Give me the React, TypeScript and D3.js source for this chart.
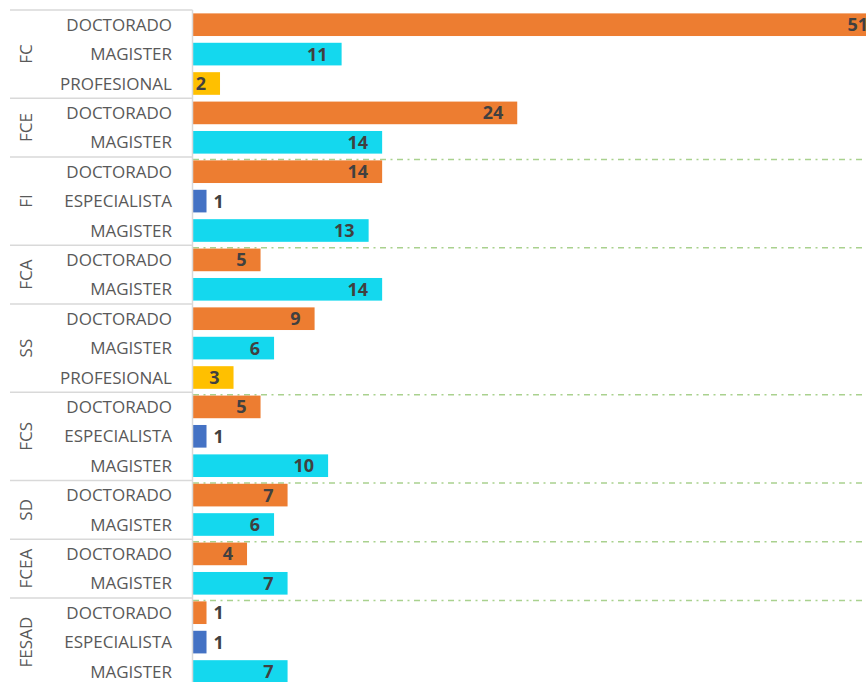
import * as d3 from "d3";

// rows, top to bottom
const groups = ["FC", "FCE", "FI", "FCA", "SS", "FCS", "SD", "FCEA", "FESAD"];
const rowGroups = [
  "FC", "FC", "FC",
  "FCE", "FCE",
  "FI", "FI", "FI",
  "FCA", "FCA",
  "SS", "SS", "SS",
  "FCS", "FCS", "FCS",
  "SD", "SD",
  "FCEA", "FCEA",
  "FESAD", "FESAD", "FESAD",
];
const rowDegrees = [
  "DOCTORADO", "MAGISTER", "PROFESIONAL",
  "DOCTORADO", "MAGISTER",
  "DOCTORADO", "ESPECIALISTA", "MAGISTER",
  "DOCTORADO", "MAGISTER",
  "DOCTORADO", "MAGISTER", "PROFESIONAL",
  "DOCTORADO", "ESPECIALISTA", "MAGISTER",
  "DOCTORADO", "MAGISTER",
  "DOCTORADO", "MAGISTER",
  "DOCTORADO", "ESPECIALISTA", "MAGISTER",
];
const values = [51, 11, 2, 24, 14, 14, 1, 13, 5, 14, 9, 6, 3, 5, 1, 10, 7, 6, 4, 7, 1, 1, 7];
// groups that have the green dash-dot line on top
const dashedGroups = ["FI", "FCA", "FCS", "SD", "FCEA", "FESAD"];

const degreeColors: Record<string, string> = {
  DOCTORADO: "#ED7D31",
  MAGISTER: "#14D8EE",
  PROFESIONAL: "#FFC000",
  ESPECIALISTA: "#4472C4",
};

export default function App() {
  const width = 866;
  const height = 682;
  const axisX = 192.5;
  const top = 10;
  const step = 29.4;

  const rowIds = values.map((_, i) => String(i));

  const y = d3
    .scaleBand()
    .domain(rowIds)
    .range([top, top + step * rowIds.length])
    .paddingInner(0.23)
    .paddingOuter(0.115);

  const x = d3.scaleLinear().domain([0, 51]).range([193, 882]);

  const font = "'Open Sans', sans-serif";

  // group start / end row indices
  const groupSpans = groups.map((g) => {
    const first = rowGroups.indexOf(g);
    const last = rowGroups.lastIndexOf(g);
    return { g, y0: top + first * step, y1: top + (last + 1) * step };
  });

  return (
    <svg
      width={width}
      height={height}
      style={{ position: "absolute", left: 0, top: 0, display: "block", background: "#fff" }}
    >
      {/* green dash-dot lines */}
      {groupSpans
        .filter((s) => dashedGroups.includes(s.g))
        .map((s) => (
          <line
            key={"d" + s.g}
            x1={193}
            x2={width}
            y1={s.y0 + 2.5}
            y2={s.y0 + 2.5}
            stroke="#A9D18E"
            strokeWidth={1.5}
            strokeDasharray="6,4.5,2,4.5"
          />
        ))}

      {/* bars */}
      {values.map((v, i) => (
        <rect
          key={"b" + i}
          x={x(0)}
          y={y(String(i))}
          width={x(v) - x(0)}
          height={y.bandwidth()}
          fill={degreeColors[rowDegrees[i]]}
        />
      ))}

      {/* value labels */}
      {values.map((v, i) => {
        const cy = (y(String(i)) as number) + y.bandwidth() / 2;
        const inside = v > 1;
        return (
          <text
            key={"v" + i}
            x={inside ? x(v) - 14 : x(v) + 7}
            y={cy + 6.5}
            textAnchor={inside ? "end" : "start"}
            fontFamily={font}
            fontWeight="bold"
            fontSize={18}
            fill="#404040"
          >
            {v}
          </text>
        );
      })}

      {/* left label area lines */}
      <line x1={10} x2={axisX} y1={top} y2={top} stroke="#D9D9D9" strokeWidth={1.5} />
      {groupSpans.slice(1).map((s) => (
        <line
          key={"s" + s.g}
          x1={10}
          x2={axisX}
          y1={s.y0}
          y2={s.y0}
          stroke="#D9D9D9"
          strokeWidth={1.5}
        />
      ))}
      <line x1={axisX} x2={axisX} y1={top} y2={height} stroke="#D9D9D9" strokeWidth={1.5} />

      {/* degree labels */}
      {rowDegrees.map((d, i) => (
        <text
          key={"c" + i}
          x={172}
          y={(y(String(i)) as number) + y.bandwidth() / 2 + 6}
          textAnchor="end"
          fontFamily={font}
          fontSize={17}
          fill="#595959"
        >
          {d}
        </text>
      ))}

      {/* group labels */}
      {groupSpans.map((s) => {
        const cy = (s.y0 + s.y1) / 2;
        return (
          <text
            key={"g" + s.g}
            transform={`translate(32,${cy}) rotate(-90)`}
            textAnchor="middle"
            fontFamily={font}
            fontSize={17}
            fill="#595959"
          >
            {s.g}
          </text>
        );
      })}
    </svg>
  );
}
